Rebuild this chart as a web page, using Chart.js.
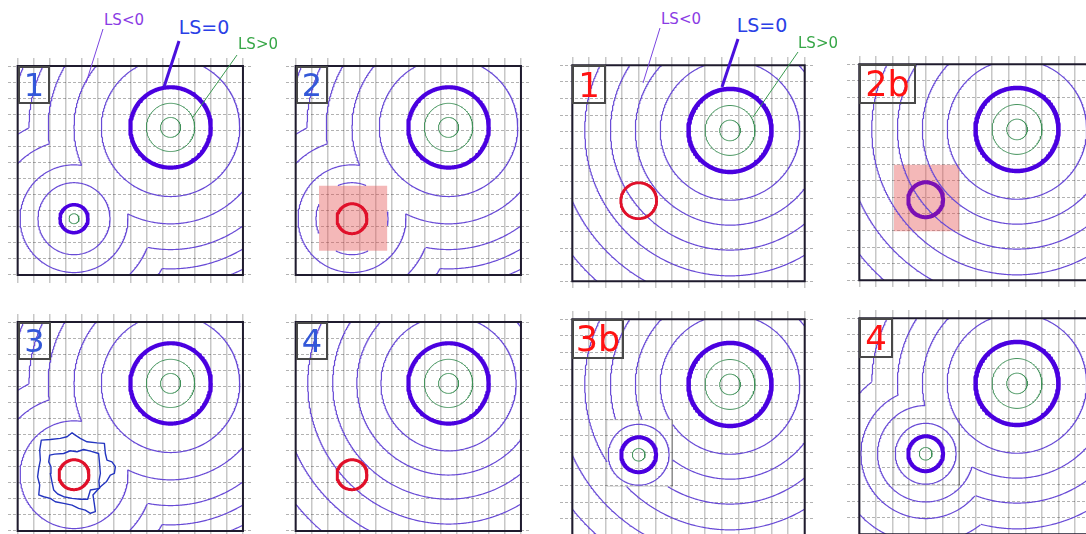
<!DOCTYPE html>
<html>
<head>
<meta charset="utf-8">
<title>Level set panels</title>
<script src="https://cdn.jsdelivr.net/npm/chart.js@4.4.1/dist/chart.umd.min.js"></script>
<style>
  html, body { margin:0; padding:0; background:#ffffff; }
  #stage { position:relative; width:1086px; height:534px; overflow:hidden; background:#fff; }
  #stage canvas { position:absolute; }
  .tag { position:absolute; box-sizing:border-box; border:2px solid #484848; font-family:"DejaVu Sans", sans-serif; display:flex; align-items:center; justify-content:center; line-height:1; z-index:3; }
  .note { position:absolute; font-family:"DejaVu Sans", sans-serif; white-space:nowrap; transform:translate(-50%,-50%); line-height:1; z-index:4; }
  #lines { position:absolute; left:0; top:0; z-index:4; }
</style>
</head>
<body>
<div id="stage"></div>
<script>
// ---------------- data (grid cell units, y grows downward) ----------------
const gridColumns = [0,1,2,3,4,5,6,7,8,9,10,11,12,13,14];
const gridRows    = [0,1,2,3,4,5,6,7,8,9,10,11,12,13];
const boxSize = [14, 13];

// left group (blue numbers)
const bigCenterL   = [9.5, 3.82];
const smallCenterL = [3.5, 9.5];
const bigLevelsL   = [4.3, 6.0, 7.6, 8.8, 9.9];
const smallLevelsL = [2.24, 3.35, 4.9, 6.3, 7.6];
const smallZeroL   = 0.87;
const smallInsideL = [0.31];
const redRadiusL   = 0.93;
const squareL      = [1.45, 7.45, 5.7, 11.5];

// right group (red numbers)
const bigCenterR   = [9.5, 3.92];
const smallCenterR = [4.0, 8.15];
const smallLevelsR = [1.83, 2.9, 3.9, 5.4, 6.9, 8.4, 9.9];
const smallZeroR   = 1.05;
const smallInsideR = [0.38];
const redRadiusR   = 1.08;
const squareR      = [2.08, 6.05, 6.03, 10.05];

// shared by both groups
const bigZeroRadius  = 2.5;
const bigInsideRadii = [1.5, 0.62];
const bigLevelsConc  = [4.2, 5.7, 7.2, 8.75, 10.4, 12.1, 13.8];

// panel 3: the two irregular contours around the red circle
const jaggedInner = [[1.99,8.28],[2.3,8.22],[2.86,8.18],[3.27,8.01],[3.69,8.07],[4.10,7.93],[4.52,8.03],[5.03,8.18],[5.09,8.80],[5.14,9.42],[5.05,9.9],[5.09,10.35],[4.52,10.45],[4.35,11.03],[3.89,11.03],[3.38,10.97],[2.86,10.87],[2.49,10.70],[2.24,10.45],[2.13,9.94],[2.03,9.42],[2.07,9.0],[1.93,8.70],[1.99,8.28]];
const jaggedOuter = [[1.47,7.35],[2.03,7.31],[2.65,7.24],[3.07,7.14],[3.38,6.89],[3.58,7.04],[3.89,7.24],[4.31,7.45],[4.93,7.52],[5.39,7.55],[5.45,8.18],[5.55,8.59],[5.86,8.70],[6.07,9.0],[6.01,9.42],[5.76,9.52],[5.51,9.94],[5.14,10.25],[4.68,10.76],[4.76,11.28],[4.83,11.80],[4.52,11.9],[4.2,11.7],[3.79,11.59],[3.38,11.39],[2.86,11.28],[2.34,11.18],[2.03,10.97],[1.62,10.87],[1.31,10.76],[1.37,10.14],[1.24,9.63],[1.31,9.11],[1.41,8.59],[1.37,7.97],[1.47,7.35]];

const panelLabels = ['1','2','3','4','1','2b','3b','4'];

// ---------------- styles ----------------
const COL_CONT = 'rgb(104,74,214)';
const COL_ZERO = '#4a00e0';
const COL_GREEN = '#3f9058';
const COL_RED = '#e0102a';
const COL_PURPLE = '#7a10b4';
const COL_BOX = '#1f1b2e';
const COL_JAG = '#2435c0';
const COL_PINK = 'rgba(228,78,78,0.40)';

// ---------------- geometry helpers ----------------
function arc(c, r, others, clipRect) {
  const W = boxSize[0], H = boxSize[1];
  const n = Math.max(160, Math.round(r * 90));
  const out = [];
  let prev = false;
  for (let i = 0; i <= n; i++) {
    const a = 2 * Math.PI * i / n;
    const x = c[0] + r * Math.cos(a), y = c[1] + r * Math.sin(a);
    let keep = x >= 0 && x <= W && y >= 0 && y <= H;
    if (keep && others) {
      for (const o of others) { if (Math.hypot(x - o[0], y - o[1]) < o[2]) { keep = false; break; } }
    }
    if (keep && clipRect && x > clipRect[0] && x < clipRect[2] && y > clipRect[1] && y < clipRect[3]) keep = false;
    if (keep) out.push({x, y}); else if (prev) out.push({x: null, y: null});
    prev = keep;
  }
  return out;
}
function pairs(list) { return list.map(p => ({x: p[0], y: p[1]})); }
function rectPath(r) { return [{x:r[0],y:r[1]},{x:r[2],y:r[1]},{x:r[2],y:r[3]},{x:r[0],y:r[3]},{x:r[0],y:r[1]}]; }
function ds(data, color, width, order) {
  return {data, borderColor: color, borderWidth: width, pointRadius: 0, pointHoverRadius: 0, fill: false, tension: 0,
          spanGaps: false, order, borderCapStyle: 'round', borderJoinStyle: 'round'};
}
function fillRect(r, color) {
  return {data: [{x:r[0],y:r[1]},{x:r[2],y:r[1]}], borderColor:'transparent', borderWidth:0, pointRadius:0, backgroundColor: color, fill: {value: r[3]}, order: 50};
}
function boxDS() { const d = ds(rectPath([0,0,boxSize[0],boxSize[1]]), COL_BOX, 2, 0); d.borderCapStyle = 'square'; d.borderJoinStyle = 'miter'; return d; }
function bigCore(c, w) {
  return [ds(arc(c, bigZeroRadius), COL_ZERO, w, 3)].concat(bigInsideRadii.map(r => ds(arc(c, r), COL_GREEN, 1, 4)));
}
function concentric(c, levels, clip) { return levels.map(r => ds(arc(c, r, null, clip), COL_CONT, 1.2, 5)); }
function unionLevels(cA, la, cB, lb, opts) {
  opts = opts || {};
  const out = [];
  for (let k = 0; k < la.length; k++) {
    out.push(ds(arc(cA, la[k], [[cB[0], cB[1], lb[k]]]), COL_CONT, 1.2, 5));
    if (opts.skipB && opts.skipB.includes(k)) continue;
    const clip = (opts.clipB && opts.clipB.k === k) ? opts.clipB.rect : null;
    out.push(ds(arc(cB, lb[k], [[cA[0], cA[1], la[k]]], clip), COL_CONT, 1.2, 5));
  }
  return out;
}

// ---------------- panel builders ----------------
const builders = {
  L1: () => [boxDS(), ...bigCore(bigCenterL, 4.2),
    ds(arc(smallCenterL, smallZeroL), COL_ZERO, 3.5, 3),
    ...smallInsideL.map(r => ds(arc(smallCenterL, r), COL_GREEN, 1, 4)),
    ...unionLevels(bigCenterL, bigLevelsL, smallCenterL, smallLevelsL)],
  L2: () => [boxDS(), ...bigCore(bigCenterL, 4.2),
    ds(arc(smallCenterL, redRadiusL), COL_RED, 3, 2),
    fillRect(squareL, COL_PINK),
    ...unionLevels(bigCenterL, bigLevelsL, smallCenterL, smallLevelsL, {clipB: {k: 0, rect: squareL}})],
  L3: () => [boxDS(), ...bigCore(bigCenterL, 4.2),
    ds(arc(smallCenterL, redRadiusL), COL_RED, 3, 2),
    ds(pairs(jaggedInner), COL_JAG, 1.4, 4),
    ds(pairs(jaggedOuter), COL_JAG, 1.4, 4),
    ...unionLevels(bigCenterL, bigLevelsL, smallCenterL, smallLevelsL, {skipB: [0]})],
  L4: () => [boxDS(), ...bigCore(bigCenterL, 4.2),
    ds(arc(smallCenterL, redRadiusL), COL_RED, 3, 2),
    ...concentric(bigCenterL, bigLevelsConc)],
  R1: () => [boxDS(), ...bigCore(bigCenterR, 4.5),
    ds(arc(smallCenterR, redRadiusR), COL_RED, 2.8, 2),
    ...concentric(bigCenterR, bigLevelsConc)],
  R2: () => [boxDS(), ...bigCore(bigCenterR, 4.5),
    ds(arc(smallCenterR, smallZeroR), COL_PURPLE, 4, 2),
    fillRect(squareR, COL_PINK),
    ...concentric(bigCenterR, bigLevelsConc)],
  R3: () => [boxDS(), ...bigCore(bigCenterR, 4.5),
    ds(rectPath(squareR), 'rgba(0,0,0,0.16)', 1, 6),
    ds(arc(smallCenterR, smallZeroR), COL_ZERO, 4, 3),
    ...smallInsideR.map(r => ds(arc(smallCenterR, r), COL_GREEN, 1, 4)),
    ds(arc(smallCenterR, smallLevelsR[0]), COL_CONT, 1.2, 5),
    ...concentric(bigCenterR, bigLevelsConc, squareR)],
  R4: () => [boxDS(), ...bigCore(bigCenterR, 4.5),
    ds(rectPath(squareR), 'rgba(0,0,0,0.16)', 1, 6),
    ds(arc(smallCenterR, smallZeroR), COL_ZERO, 4, 3),
    ...smallInsideR.map(r => ds(arc(smallCenterR, r), COL_GREEN, 1, 4)),
    ...unionLevels(bigCenterR, bigLevelsConc, smallCenterR, smallLevelsR)]
};

// ---------------- layout (pixels) ----------------
const extL = [-0.6, 14.5, -0.5, 13.5];
const extR = [-0.74, 14.5, -0.5, 13.4];
const panels = [
  {key:'L1', ox:18,    oy:66,    cell:16.1, ext:extL, tag:[32,38], fs:32, color:'#3358d8'},
  {key:'L2', ox:296,   oy:66,    cell:16.1, ext:extL, tag:[32,38], fs:32, color:'#3358d8'},
  {key:'L3', ox:17.5,  oy:321.7, cell:16.1, ext:extL, tag:[33,38], fs:32, color:'#3358d8'},
  {key:'L4', ox:296,   oy:321.7, cell:16.1, ext:extL, tag:[32,38], fs:32, color:'#3358d8'},
  {key:'R1', ox:572.3, oy:65,    cell:16.6, ext:extR, tag:[34,39], fs:34, color:'#ff1212'},
  {key:'R2', ox:859,   oy:64.3,  cell:16.6, ext:extR, tag:[57,40], fs:35, color:'#ff1212'},
  {key:'R3', ox:572.3, oy:319,   cell:16.6, ext:extR, tag:[52,40], fs:35, color:'#ff1212'},
  {key:'R4', ox:859,   oy:318,   cell:16.6, ext:extR, tag:[34,40], fs:34, color:'#ff1212'}
];

const stage = document.getElementById('stage');

panels.forEach((p, i) => {
  const cv = document.createElement('canvas');
  const left = Math.round(p.ox + p.ext[0] * p.cell), top = Math.round(p.oy + p.ext[2] * p.cell);
  const w = Math.round((p.ext[1] - p.ext[0]) * p.cell), h = Math.round((p.ext[3] - p.ext[2]) * p.cell);
  cv.width = w; cv.height = h;
  cv.style.left = left + 'px'; cv.style.top = top + 'px';
  cv.style.width = w + 'px'; cv.style.height = h + 'px';
  stage.appendChild(cv);
  new Chart(cv, {
    type: 'line',
    data: {datasets: builders[p.key]()},
    options: {
      responsive: false, animation: false, devicePixelRatio: 1, events: [],
      layout: {padding: 0},
      plugins: {legend: {display: false}, tooltip: {enabled: false}, title: {display: false}},
      scales: {
        x: {type: 'linear', min: p.ext[0], max: p.ext[1],
            afterBuildTicks: s => { s.ticks = gridColumns.map(v => ({value: v})); },
            ticks: {display: false}, grid: {color: 'rgba(0,0,0,0.22)', lineWidth: 1.5, drawTicks: false},
            border: {display: false}},
        y: {type: 'linear', reverse: true, min: p.ext[2], max: p.ext[3],
            afterBuildTicks: s => { s.ticks = gridRows.map(v => ({value: v})); },
            ticks: {display: false}, grid: {color: 'rgba(0,0,0,0.30)', lineWidth: 1, drawTicks: false},
            border: {display: false, dash: [3, 2]}}
      }
    }
  });
  const tag = document.createElement('div');
  tag.className = 'tag';
  tag.style.left = Math.round(p.ox) + 'px'; tag.style.top = Math.round(p.oy) + 'px';
  tag.style.width = p.tag[0] + 'px'; tag.style.height = p.tag[1] + 'px';
  tag.style.fontSize = p.fs + 'px'; tag.style.color = p.color;
  tag.textContent = panelLabels[i];
  stage.appendChild(tag);
});

// ---------------- annotations (LS<0, LS=0, LS>0) ----------------
const notes = [
  {t:'LS<0', x:124, y:20, fs:15, c:'#8a3be4'}, {t:'LS=0', x:204, y:27, fs:19, c:'#2a3fe6'}, {t:'LS>0', x:258, y:44, fs:15, c:'#36a646'},
  {t:'LS<0', x:681, y:19, fs:15, c:'#8a3be4'}, {t:'LS=0', x:762, y:25, fs:19, c:'#2a3fe6'}, {t:'LS>0', x:818, y:43, fs:15, c:'#36a646'}
];
notes.forEach(n => {
  const d = document.createElement('div');
  d.className = 'note'; d.textContent = n.t;
  d.style.left = n.x + 'px'; d.style.top = n.y + 'px'; d.style.fontSize = n.fs + 'px'; d.style.color = n.c;
  stage.appendChild(d);
});
const leaders = [
  [103,29,86,83,'#7a45e0',1], [179,41,164,87,'#4a10dd',3], [237,55,193,117,'#3a9a50',1],
  [660,28,643,83,'#7a45e0',1], [738,39,722,87,'#4a10dd',3], [798,52,753,117,'#3a9a50',1]
];
const NS = 'http://www.w3.org/2000/svg';
const svg = document.createElementNS(NS, 'svg');
svg.setAttribute('id', 'lines'); svg.setAttribute('width', 1086); svg.setAttribute('height', 534);
leaders.forEach(l => {
  const e = document.createElementNS(NS, 'line');
  e.setAttribute('x1', l[0]); e.setAttribute('y1', l[1]); e.setAttribute('x2', l[2]); e.setAttribute('y2', l[3]);
  e.setAttribute('stroke', l[4]); e.setAttribute('stroke-width', l[5]);
  svg.appendChild(e);
});
stage.appendChild(svg);
</script>
</body>
</html>
